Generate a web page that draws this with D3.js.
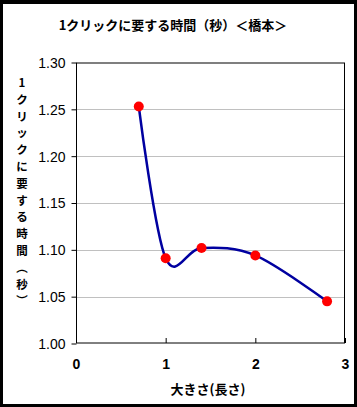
<!DOCTYPE html>
<html><head><meta charset="utf-8">
<script src="https://cdn.jsdelivr.net/npm/d3@7"></script>
<style>
html,body{margin:0;padding:0;background:#fff;}
svg{display:block;}
</style></head>
<body>
<svg id="chart" width="357" height="407"></svg>
<script>
const titleText = "1クリックに要する時間（秒）＜橋本＞";
const yLabelChars = ["1","ク","リ","ッ","ク","に","要","す","る","時","間","︵","秒","︶"];
const xLabelText = "大きさ(長さ)";
const xValues = [0.7, 1.0, 1.4, 2.0, 2.8];
const yValues = [1.253, 1.091, 1.102, 1.094, 1.045];
const xTicks = [0, 1, 2, 3];
const yTicks = [1.00, 1.05, 1.10, 1.15, 1.20, 1.25, 1.30];

const svg = d3.select("#chart");
const W = 357, H = 407;
const font = "'Liberation Sans', Arial, sans-serif";
const jfont = "'Noto Sans CJK JP', sans-serif";

// outer border
svg.append("rect").attr("x",0).attr("y",0).attr("width",W).attr("height",H).attr("fill","#000");
svg.append("rect").attr("x",3).attr("y",4).attr("width",W-6).attr("height",H-7).attr("fill","#fff");

const pl = 76, pr = 345, pt = 62.5, pb = 343.5;
const x = d3.scaleLinear().domain([0,3]).range([pl,pr]);
const y = d3.scaleLinear().domain([1.00,1.30]).range([pb,pt]);

// gridlines
svg.append("g").selectAll("line").data(yTicks.slice(1,-1)).join("line")
  .attr("x1",pl).attr("x2",pr)
  .attr("y1",d=>Math.round(y(d))+0.5).attr("y2",d=>Math.round(y(d))+0.5)
  .attr("stroke","#c0c0c0").attr("stroke-width",1);

// plot border
svg.append("rect").attr("x",pl+0.5).attr("y",pt+0.5).attr("width",pr-pl-1).attr("height",pb-pt-1)
  .attr("fill","none").attr("stroke","#000").attr("stroke-width",1);

// y axis
const yAxis = d3.axisLeft(y).tickValues(yTicks).tickFormat(d3.format(".2f")).tickSize(5).tickPadding(6);
const gy = svg.append("g").attr("transform",`translate(${pl+0.5},0)`).call(yAxis);
gy.select(".domain").remove();
gy.selectAll("text").attr("font-family",font).attr("font-size",14).attr("fill","#000").attr("dy","0.35em");
gy.selectAll("line").attr("stroke","#000");

// x axis (ticks inward)
const xAxis = d3.axisBottom(x).tickValues(xTicks).tickFormat(d3.format("d")).tickSizeInner(-5).tickSizeOuter(0).tickPadding(16);
const gx = svg.append("g").attr("transform",`translate(0,${pb-0.5})`).call(xAxis);
gx.select(".domain").remove();
gx.selectAll("text").attr("font-family",font).attr("font-size",14).attr("font-weight","bold").attr("fill","#000");
gx.selectAll("line").attr("stroke","#000");

// smooth line
const pts = xValues.map((v,i)=>[v,yValues[i]]);
const line = d3.line().x(d=>x(d[0])).y(d=>y(d[1])).curve(d3.curveCardinal.tension(0));
svg.append("path").datum(pts).attr("d",line).attr("fill","none")
  .attr("stroke","#0000a0").attr("stroke-width",2.5);

// markers
svg.append("g").selectAll("circle").data(pts).join("circle")
  .attr("cx",d=>x(d[0])).attr("cy",d=>y(d[1])).attr("r",5)
  .attr("fill","#ff0000");

// title
svg.append("text").attr("x",173).attr("y",30).attr("text-anchor","middle")
  .attr("font-family",jfont).attr("font-size",13).attr("font-weight","bold")
  .text(titleText);

// x label
svg.append("text").attr("x",208).attr("y",394).attr("text-anchor","middle")
  .attr("font-family",jfont).attr("font-size",13).attr("font-weight","bold")
  .text(xLabelText);

// y label (vertical, one character per cell)
svg.append("g").selectAll("text").data(yLabelChars).join("text")
  .attr("x",22).attr("y",(d,i)=>83 + i*16.8).attr("dy","0.35em")
  .attr("text-anchor","middle")
  .attr("font-family",jfont).attr("font-size",11.5).attr("font-weight","bold")
  .text(d=>d);
</script>
</body></html>
